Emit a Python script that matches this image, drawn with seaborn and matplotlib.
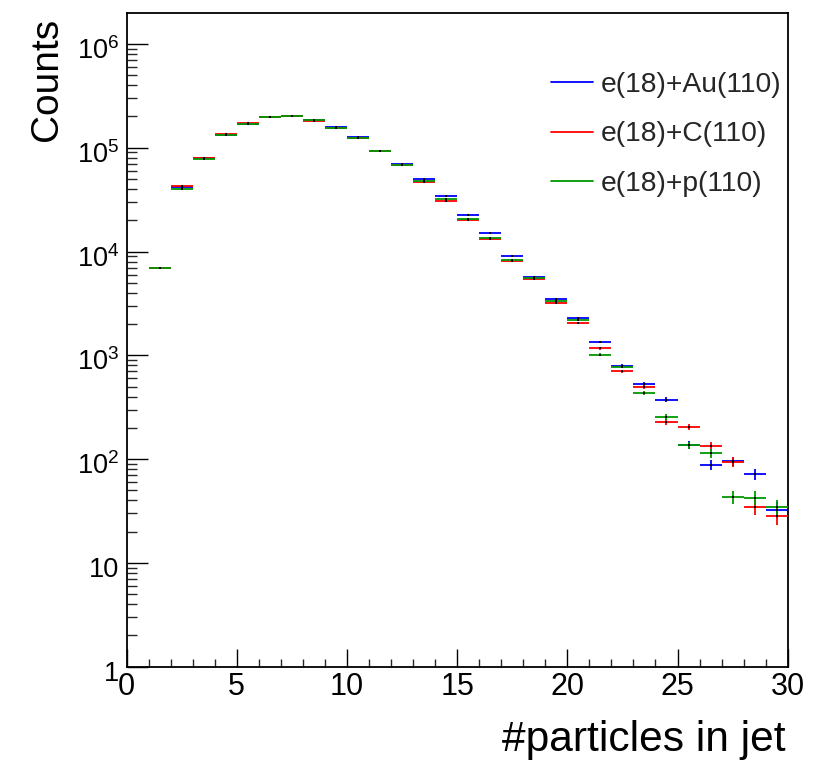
import numpy as np
import pandas as pd
import matplotlib
matplotlib.use("Agg")
import matplotlib.pyplot as plt
import matplotlib.transforms as mtransforms
from matplotlib.lines import Line2D
from matplotlib.ticker import FixedLocator, FixedFormatter, MultipleLocator
import seaborn as sns

# ---------------- data ----------------
bin_low = list(range(1, 30))          # bins [k, k+1]
bin_width = 1.0
au_counts = [7000, 41600, 79000, 134000, 171000, 198000, 200000, 187000, 157000,
             126000, 94000, 69000, 49500, 34100, 22500, 15100, 9070, 5740, 3490,
             2280, 1340, 790, 535, 375, 137, 88, 95, 72, 32.7]
c_counts = [7000, 43200, 80500, 135000, 172000, 198000, 200000, 181000, 155000,
            124000, 92000, 68000, 46900, 31000, 20100, 13300, 8190, 5440, 3180,
            2040, 1170, 700, 496, 228, 206, 134, 94, 34.6, 28.6]
p_counts = [7000, 40400, 78000, 133000, 170000, 199000, 200000, 184000, 156000,
            125000, 93000, 68500, 48000, 32100, 20600, 13600, 8300, 5610, 3340,
            2210, 1010, 775, 431, 255, 136, 114, 43.2, 42.3, 34.4]
series_names = ["e(18)+Au(110)", "e(18)+C(110)", "e(18)+p(110)"]
series_colors = ["#0000ff", "#ff0000", "#009900"]
ytick_vals = [1, 10, 100, 1000, 10000, 100000, 1000000]
ytick_labels = ["1", "10", "$10^{2}$", "$10^{3}$", "$10^{4}$", "$10^{5}$", "$10^{6}$"]
xtick_vals = [0, 5, 10, 15, 20, 25, 30]

rows = []
for name, vals in zip(series_names, [au_counts, c_counts, p_counts]):
    for lo, v in zip(bin_low, vals):
        rows.append({"sample": name, "x": lo + bin_width / 2, "count": v,
                     "err": np.sqrt(v)})
df = pd.DataFrame(rows)

# ---------------- style ----------------
sns.set_theme(style="ticks")
plt.rcParams["font.family"] = ["Liberation Sans", "DejaVu Sans"]
plt.rcParams["mathtext.fontset"] = "custom"
plt.rcParams["mathtext.rm"] = "Liberation Sans"
plt.rcParams["mathtext.it"] = "Liberation Sans:italic"
plt.rcParams["mathtext.bf"] = "Liberation Sans:bold"

W, H = 816, 767
fig = plt.figure(figsize=(W / 100, H / 100), dpi=100)
left, right, top, bottom = 126.5, 787.7, 12.7, 666.7
ax = fig.add_axes([left / W, 1 - bottom / H, (right - left) / W, (bottom - top) / H])

for name, col in zip(series_names, series_colors):
    d = df[df["sample"] == name]
    ax.errorbar(d["x"], d["count"], xerr=bin_width / 2, yerr=d["err"],
                fmt="none", ecolor=col, elinewidth=1.3, capsize=0, zorder=3)

sns.scatterplot(data=df, x="x", y="count", color="black", marker="s", s=3,
                linewidth=0, ax=ax, zorder=4, legend=False)

ax.set_yscale("log")
ax.set_xlim(0, 30)
ax.set_ylim(1, 2e6)

ax.xaxis.set_major_locator(FixedLocator(xtick_vals))
ax.xaxis.set_minor_locator(MultipleLocator(1))
ax.yaxis.set_major_locator(FixedLocator(ytick_vals))
ax.yaxis.set_major_formatter(FixedFormatter(ytick_labels))
minors = [m * 10 ** e for e in range(0, 7) for m in range(2, 10) if m * 10 ** e < 2e6]
ax.yaxis.set_minor_locator(FixedLocator(minors))
ax.yaxis.set_minor_formatter(FixedFormatter([""] * len(minors)))

ax.tick_params(axis="x", which="major", direction="in", length=12.7, width=1.0,
               labelsize=22, pad=4, colors="black")
ax.tick_params(axis="x", which="minor", direction="in", length=6, width=1.0)
ax.tick_params(axis="y", which="major", direction="in", length=15, width=1.0,
               labelsize=19.5, pad=5, colors="black")
ax.tick_params(axis="y", which="minor", direction="in", length=7.2, width=1.0)
for s in ax.spines.values():
    s.set_visible(True)
    s.set_color("black")
    s.set_linewidth(1.3)

# shift y tick labels slightly downward (ROOT-like placement)
offset = mtransforms.ScaledTranslation(0, -3 / 72, fig.dpi_scale_trans)
for lab in ax.get_yticklabels():
    lab.set_transform(lab.get_transform() + offset)

ax.set_xlabel("")
ax.set_ylabel("")
fig.text(786 / W, 1 - 751 / H, "#particles in jet", ha="right", va="baseline",
         fontsize=30.6, color="black")
fig.text(47 / W, 1 - 18 / H, "Counts", ha="center", va="top", rotation=90,
         fontsize=28, color="black")

handles = [Line2D([0], [0], color=c, lw=1.3) for c in series_colors]
fig.legend(handles, series_names, loc="upper left",
           bbox_to_anchor=(551 / W, 1 - 72 / H), frameon=False, fontsize=20.3,
           handlelength=1.5, handletextpad=0.25, labelspacing=0.83,
           borderaxespad=0, borderpad=0)

fig.savefig("out.png", dpi=100)
